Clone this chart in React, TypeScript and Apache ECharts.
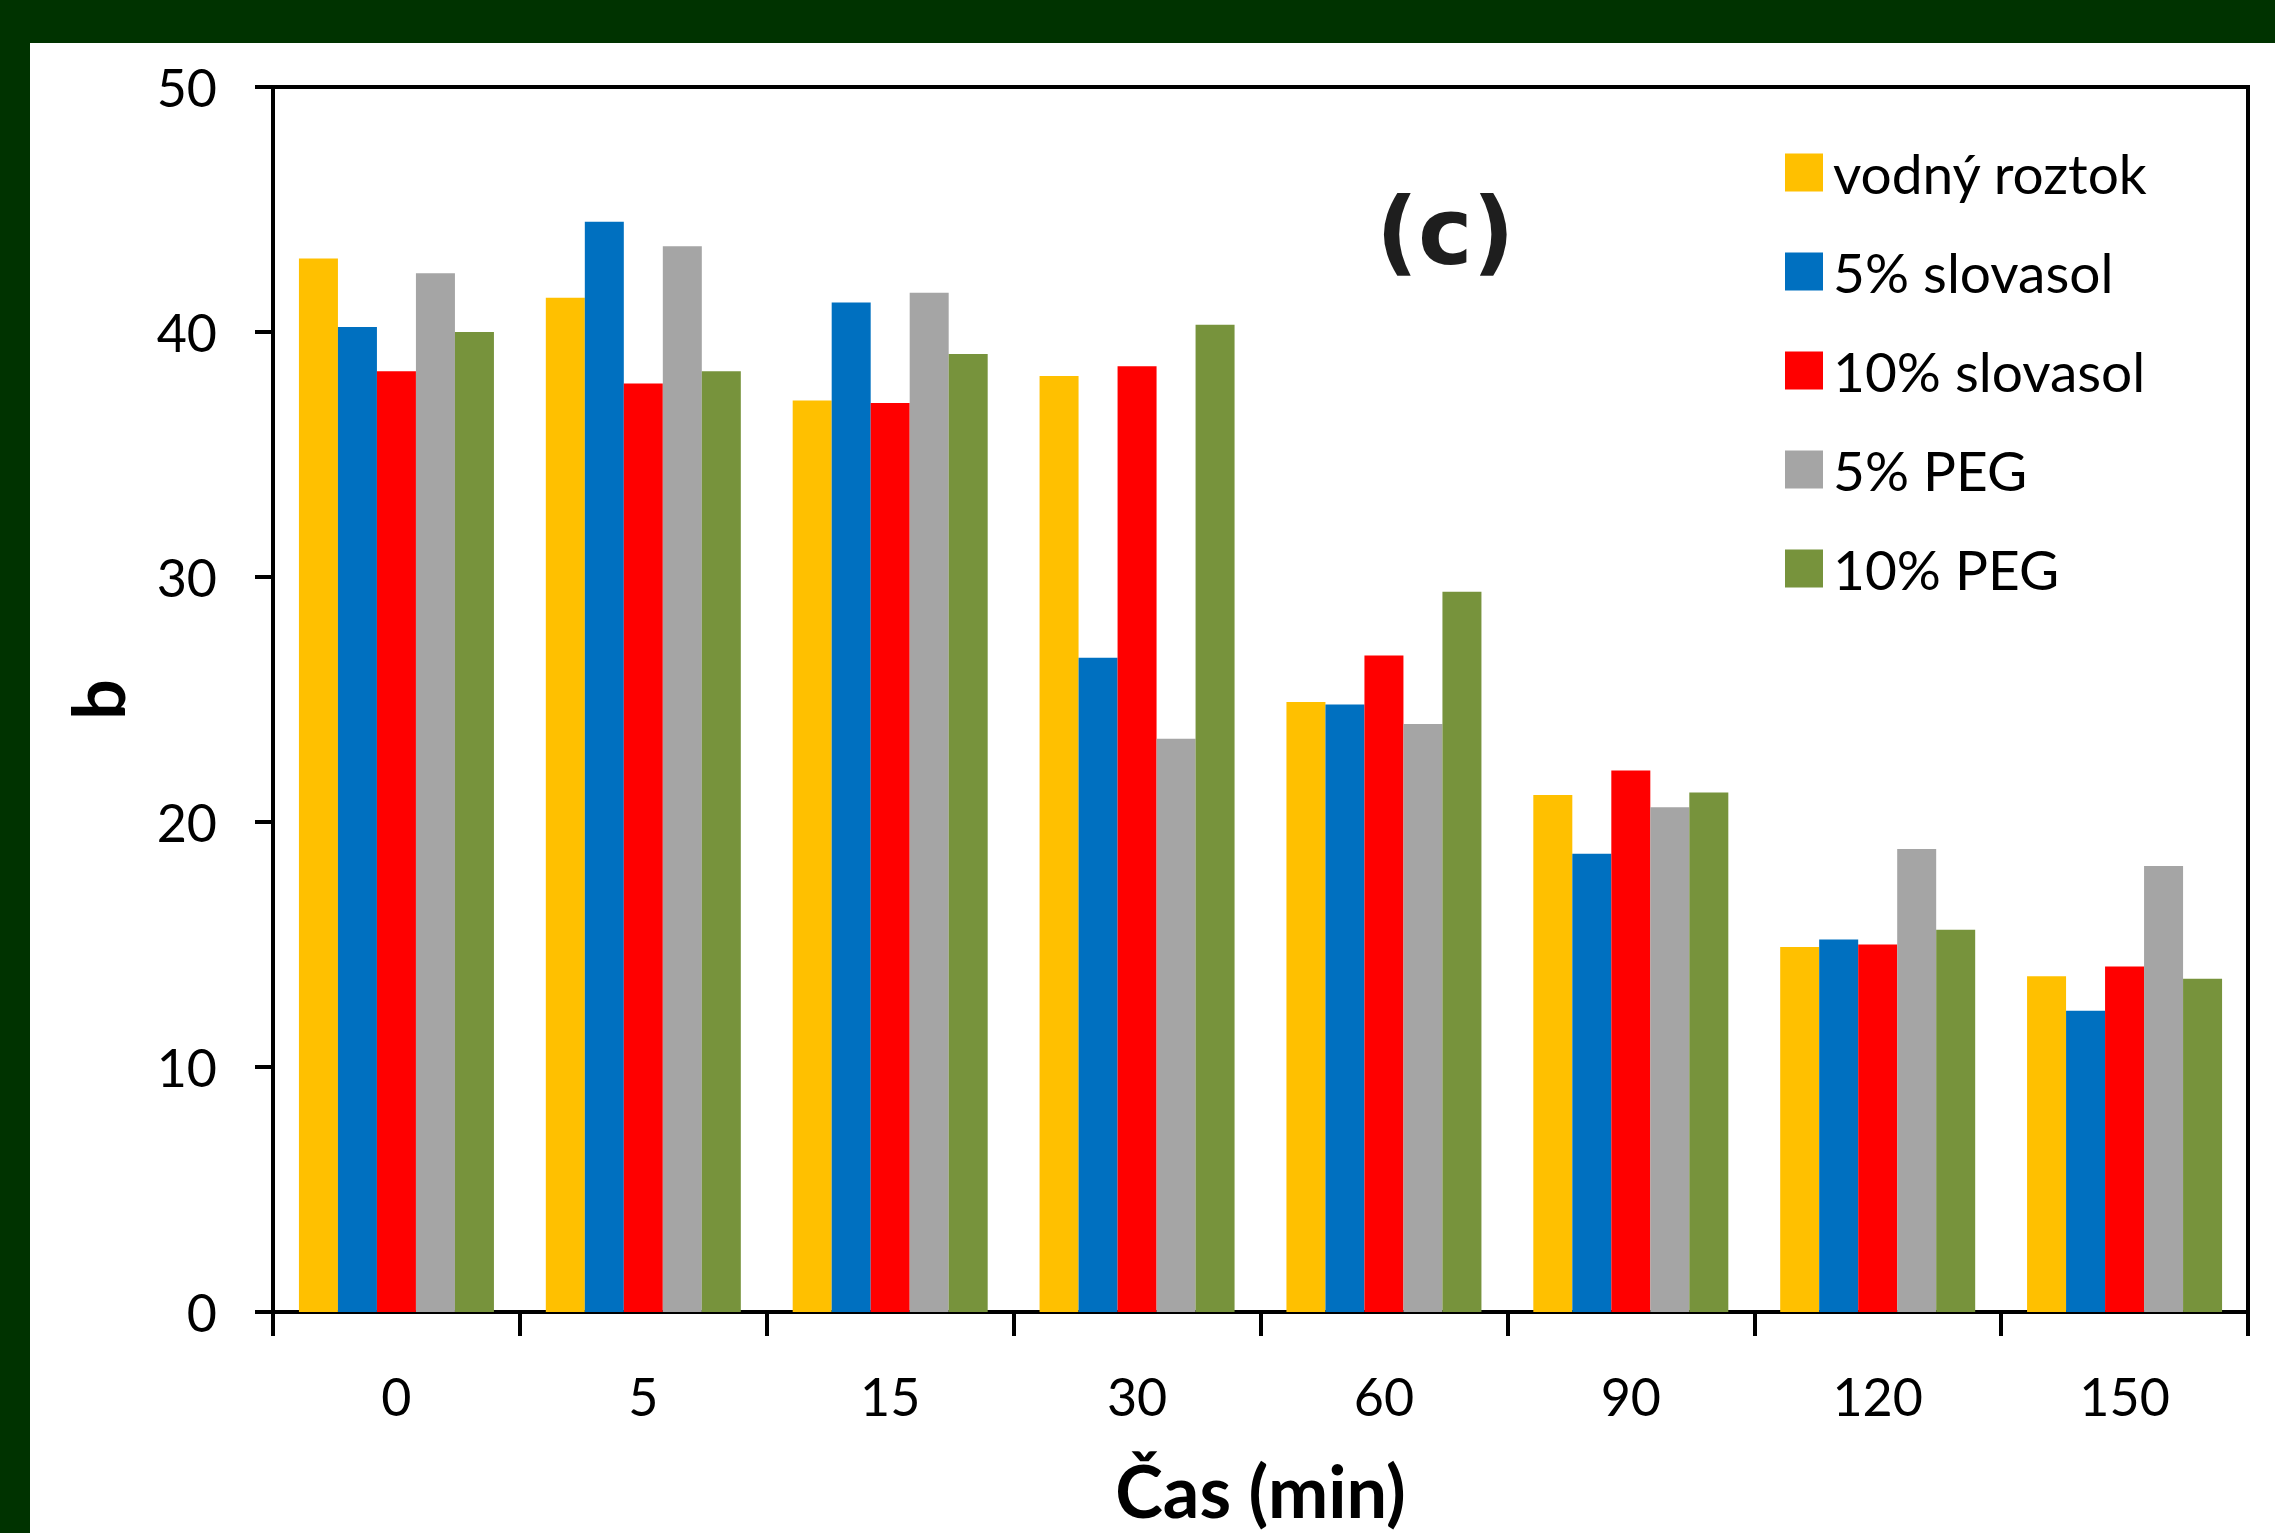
import React, { useEffect, useRef } from "react";
import * as echarts from "echarts";

const categories = ["0", "5", "15", "30", "60", "90", "120", "150"];
const seriesNames = ["vodný roztok", "5% slovasol", "10% slovasol", "5% PEG", "10% PEG"];
const vodnyRoztok = [43.0, 41.4, 37.2, 38.2, 24.9, 21.1, 14.9, 13.7];
const slovasol5 = [40.2, 44.5, 41.2, 26.7, 24.8, 18.7, 15.2, 12.3];
const slovasol10 = [38.4, 37.9, 37.1, 38.6, 26.8, 22.1, 15.0, 14.1];
const peg5 = [42.4, 43.5, 41.6, 23.4, 24.0, 20.6, 18.9, 18.2];
const peg10 = [40.0, 38.4, 39.1, 40.3, 29.4, 21.2, 15.6, 13.6];
const seriesColors = ["#FFC000", "#0070C0", "#FF0000", "#A5A5A5", "#77933C"];
const yTicks = { min: 0, max: 50, interval: 10 };

const FONT = "Lato, 'Open Sans', sans-serif";

export default function App() {
  const ref = useRef<HTMLDivElement>(null);

  useEffect(() => {
    if (!ref.current) return;
    const chart = echarts.init(ref.current, null, { renderer: "svg" });
    const allData = [vodnyRoztok, slovasol5, slovasol10, peg5, peg10];
    const option: any = {
      animation: false,
      backgroundColor: "#ffffff",
      grid: {
        left: 243,
        right: 27,
        top: 44,
        bottom: 221,
        containLabel: false,
        outerBoundsMode: "none",
        show: true,
        borderColor: "#000",
        borderWidth: 4,
        backgroundColor: "transparent",
      },
      legend: {
        orient: "vertical",
        left: 1750,
        top: 97,
        icon: "rect",
        itemWidth: 38,
        itemHeight: 38,
        itemGap: 44,
        textStyle: { fontFamily: FONT, fontSize: 55, color: "#000", padding: [0, 0, 0, 5] },
        data: seriesNames,
      },
      xAxis: {
        type: "category",
        data: categories,
        name: "Čas (min)",
        nameLocation: "middle",
        nameGap: 142,
        nameTextStyle: { fontFamily: FONT, fontSize: 72, fontWeight: "bold", color: "#000" },
        axisLine: { lineStyle: { color: "#000", width: 4 } },
        axisTick: { show: true, length: 24, lineStyle: { color: "#000", width: 4 } },
        axisLabel: { fontFamily: FONT, fontSize: 52, color: "#000", margin: 58 },
        splitLine: { show: false },
      },
      yAxis: {
        type: "value",
        min: yTicks.min,
        max: yTicks.max,
        interval: yTicks.interval,
        name: "b",
        nameLocation: "middle",
        nameRotate: 90,
        nameGap: 140,
        nameTextStyle: { fontFamily: FONT, fontSize: 72, fontWeight: "bold", color: "#000" },
        axisLine: { show: true, lineStyle: { color: "#000", width: 4 } },
        axisTick: { show: true, length: 18, lineStyle: { color: "#000", width: 4 } },
        axisLabel: { fontFamily: FONT, fontSize: 52, color: "#000", margin: 56 },
        splitLine: { show: false },
      },
      series: seriesNames.map((name, i) => ({
        name,
        type: "bar",
        data: allData[i],
        barWidth: 39,
        barGap: "0%",
        itemStyle: { color: seriesColors[i] },
      })),
      graphic: [
        {
          type: "text",
          left: 1346,
          top: 143,
          style: {
            text: "(c)",
            fontFamily: "'DejaVu Sans', sans-serif",
            fontWeight: "bold",
            fontSize: 92,
            fill: "#1e1e1e",
          },
        },
      ],
    };
    chart.setOption(option);
    return () => chart.dispose();
  }, []);

  return (
    <div style={{ position: "fixed", left: 0, top: 0, width: 2275, height: 1533, background: "#003300" }}>
      <div
        ref={ref}
        style={{ position: "absolute", left: 30, top: 43, width: 2245, height: 1490, background: "#fff" }}
      />
    </div>
  );
}
